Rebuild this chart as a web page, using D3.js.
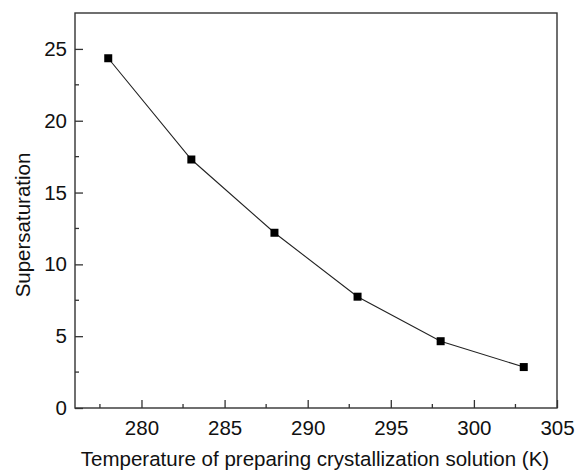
<!DOCTYPE html>
<meta charset="utf-8">
<style>
body { margin: 0; background: #fff; }
svg text { font-family: "Liberation Sans", Arial, sans-serif; fill: #111; }
</style>
<body>
<div id="chart"></div>
<script src="https://cdn.jsdelivr.net/npm/d3@7"></script>
<script>
// data
var temperature = [278, 283, 288, 293, 298, 303];
var supersaturation = [24.35, 17.3, 12.2, 7.75, 4.65, 2.85];
var xTicks = [280, 285, 290, 295, 300, 305];
var yTicks = [0, 5, 10, 15, 20, 25];

var width = 576, height = 473;
var margin = {top: 13, right: 19, bottom: 65, left: 75};
var w = width - margin.left - margin.right,
    h = height - margin.top - margin.bottom;

var fontSize = "20.5px";

var svg = d3.select("#chart").append("svg")
    .attr("width", width)
    .attr("height", height);

var g = svg.append("g")
    .attr("transform", "translate(" + margin.left + "," + margin.top + ")");

var x = d3.scaleLinear().domain([276, 305]).range([0, w]);
var y = d3.scaleLinear().domain([0, 27.5]).range([h, 0]);

var axisColor = "#333";

// minor ticks (inside)
var xMinor = d3.range(277.5, 305, 5);
var yMinor = d3.range(2.5, 27.5, 5);

g.append("g").selectAll("line").data(xMinor).enter().append("line")
    .attr("x1", function(d) { return x(d); }).attr("x2", function(d) { return x(d); })
    .attr("y1", h).attr("y2", h - 4)
    .attr("stroke", axisColor).attr("stroke-width", 1.3);

g.append("g").selectAll("line").data(yMinor).enter().append("line")
    .attr("y1", function(d) { return y(d); }).attr("y2", function(d) { return y(d); })
    .attr("x1", 0).attr("x2", 4)
    .attr("stroke", axisColor).attr("stroke-width", 1.3);

// major axes
var xAxis = g.append("g")
    .attr("transform", "translate(0," + h + ")")
    .call(d3.axisBottom(x).tickValues(xTicks).tickSizeInner(-8).tickSizeOuter(0).tickPadding(12));

var yAxis = g.append("g")
    .call(d3.axisLeft(y).tickValues(yTicks).tickSizeInner(-8).tickSizeOuter(0).tickPadding(8));

[xAxis, yAxis].forEach(function(a) {
  a.select(".domain").remove();
  a.selectAll("line").attr("stroke", axisColor).attr("stroke-width", 1.3);
  a.selectAll("text")
    .style("font-family", "'Liberation Sans', Arial, sans-serif")
    .style("font-size", fontSize)
    .attr("fill", "#111");
});

// frame
g.append("rect")
    .attr("width", w).attr("height", h)
    .attr("fill", "none")
    .attr("stroke", axisColor)
    .attr("stroke-width", 1.4);

// data line
var pts = temperature.map(function(t, i) { return [t, supersaturation[i]]; });

g.append("path")
    .datum(pts)
    .attr("fill", "none")
    .attr("stroke", "#222")
    .attr("stroke-width", 1.1)
    .attr("d", d3.line().x(function(d) { return x(d[0]); }).y(function(d) { return y(d[1]); }));

g.selectAll(".pt").data(pts).enter().append("rect")
    .attr("class", "pt")
    .attr("x", function(d) { return x(d[0]) - 4; })
    .attr("y", function(d) { return y(d[1]) - 4; })
    .attr("width", 8).attr("height", 8)
    .attr("fill", "#000");

// axis titles
svg.append("text")
    .attr("x", 315)
    .attr("y", 466)
    .attr("text-anchor", "middle")
    .style("font-size", fontSize)
    .text("Temperature of preparing crystallization solution (K)");

svg.append("text")
    .attr("transform", "translate(30,225) rotate(-90)")
    .attr("text-anchor", "middle")
    .style("font-size", fontSize)
    .text("Supersaturation");
</script>
</body>
